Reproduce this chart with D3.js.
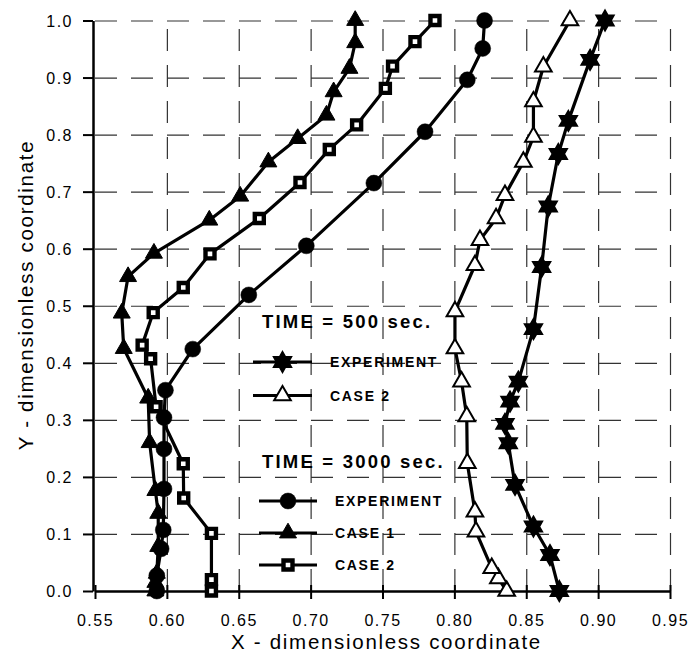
<!DOCTYPE html>
<html>
<head>
<meta charset="utf-8">
<script src="https://cdn.jsdelivr.net/npm/d3@7"></script>
<style>
  html, body { margin: 0; padding: 0; background: #fff; }
  svg { display: block; font-family: 'Liberation Sans', Arial, sans-serif; }
</style>
</head>
<body>
<div id="chart"></div>
<script>
// Dimensionless profiles at 500 s and 3000 s, experiment vs. model cases.

const X_TICKS = [0.55, 0.6, 0.65, 0.7, 0.75, 0.8, 0.85, 0.9, 0.95];
const Y_TICKS = [0, 0.1, 0.2, 0.3, 0.4, 0.5, 0.6, 0.7, 0.8, 0.9, 1.0];

// TIME = 500 sec.
const EXP_500 = [
  [0.873, 0.0], [0.8665, 0.063], [0.855, 0.113], [0.8422, 0.186], [0.8375, 0.259],
  [0.8352, 0.293], [0.8387, 0.332], [0.8445, 0.367], [0.855, 0.459], [0.8607, 0.568],
  [0.8653, 0.674], [0.8723, 0.766], [0.8793, 0.824], [0.8944, 0.931], [0.9048, 1.0]
];
const CASE2_500 = [
  [0.8364, 0.0], [0.8306, 0.022], [0.826, 0.04], [0.815, 0.104], [0.8143, 0.139],
  [0.809, 0.224], [0.8086, 0.306], [0.805, 0.367], [0.8004, 0.425], [0.8004, 0.49],
  [0.8143, 0.571], [0.8178, 0.615], [0.829, 0.653], [0.8352, 0.694], [0.848, 0.752],
  [0.855, 0.796], [0.855, 0.858], [0.8619, 0.919], [0.8804, 1.0]
];

// TIME = 3000 sec.
const EXP_3000 = [
  [0.593, 0.0], [0.593, 0.027], [0.596, 0.074], [0.5975, 0.107], [0.598, 0.179],
  [0.598, 0.249], [0.598, 0.304], [0.599, 0.352], [0.618, 0.424], [0.657, 0.519],
  [0.697, 0.605], [0.744, 0.715], [0.7796, 0.805], [0.809, 0.896], [0.8197, 0.951],
  [0.821, 1.0]
];
const CASE1_3000 = [
  [0.592, 0.0], [0.592, 0.015], [0.593, 0.031], [0.594, 0.078], [0.594, 0.136],
  [0.592, 0.176], [0.588, 0.26], [0.587, 0.338], [0.570, 0.425], [0.5686, 0.487],
  [0.573, 0.551], [0.591, 0.592], [0.6295, 0.65], [0.651, 0.692], [0.6706, 0.752],
  [0.691, 0.793], [0.711, 0.834], [0.716, 0.875], [0.727, 0.916], [0.731, 0.961],
  [0.731, 1.0]
];
const CASE2_3000 = [
  [0.631, 0.0], [0.631, 0.02], [0.631, 0.101], [0.6117, 0.163], [0.6114, 0.223],
  [0.5925, 0.323], [0.5887, 0.407], [0.5828, 0.431], [0.5905, 0.488], [0.6114, 0.532],
  [0.630, 0.591], [0.6643, 0.653], [0.6926, 0.716], [0.713, 0.774], [0.732, 0.817],
  [0.752, 0.881], [0.757, 0.92], [0.7726, 0.963], [0.7865, 1.0]
];

const LEGEND_TITLES = ['TIME = 500 sec.', 'TIME = 3000 sec.'];
const LEGEND_500 = ['EXPERIMENT', 'CASE 2'];
const LEGEND_3000 = ['EXPERIMENT', 'CASE 1', 'CASE 2'];

const width = 690;
const height = 652;
const plot = { left: 95, right: 670, top: 20.5, bottom: 591 };

// six-pointed star (two overlapping triangles)
const symbolHexagram = {
  draw(context, size) {
    const r = Math.sqrt(size) / 1.55;
    const ri = r / Math.sqrt(3);
    for (let i = 0; i < 12; i++) {
      const a = (i * Math.PI) / 6 - Math.PI / 2;
      const rad = i % 2 === 0 ? r : ri;
      const px = Math.cos(a) * rad;
      const py = Math.sin(a) * rad;
      if (i === 0) context.moveTo(px, py);
      else context.lineTo(px, py);
    }
    context.closePath();
  }
};

const MARKERS = {
  star: { type: symbolHexagram, size: 260, fill: '#000', stroke: '#000', strokeWidth: 1.5 },
  openTriangle: { type: d3.symbolTriangle, size: 120, fill: '#fff', stroke: '#000', strokeWidth: 2 },
  circle: { type: d3.symbolCircle, size: 200, fill: '#000', stroke: '#000', strokeWidth: 0.5 },
  triangle: { type: d3.symbolTriangle, size: 125, fill: '#000', stroke: '#000', strokeWidth: 1 },
  square: { type: d3.symbolSquare, size: 81, fill: '#fff', stroke: '#000', strokeWidth: 4.4 }
};

const x = d3.scaleLinear().domain([0.55, 0.95]).range([plot.left, plot.right]);
const y = d3.scaleLinear().domain([0, 1]).range([plot.bottom, plot.top]);

const svg = d3
  .select('#chart')
  .append('svg')
  .attr('width', width)
  .attr('height', height);

svg.append('rect').attr('width', width).attr('height', height).attr('fill', '#fff');

// dashed gridlines
svg
  .append('g')
  .attr('transform', `translate(0,${plot.bottom})`)
  .call(d3.axisBottom(x).tickValues(X_TICKS.slice(1)).tickSize(-(plot.bottom - plot.top)).tickFormat(''))
  .call((g) => g.select('.domain').remove())
  .selectAll('line')
  .attr('stroke', '#333')
  .attr('stroke-width', 1.2)
  .attr('stroke-dasharray', '22,14');

svg
  .append('g')
  .attr('transform', `translate(${plot.left},0)`)
  .call(d3.axisLeft(y).tickValues(Y_TICKS.slice(1)).tickSize(-(plot.right - plot.left)).tickFormat(''))
  .call((g) => g.select('.domain').remove())
  .selectAll('line')
  .attr('stroke', '#333')
  .attr('stroke-width', 1.2)
  .attr('stroke-dasharray', '22,14');

// axes
const xAxis = svg
  .append('g')
  .attr('transform', `translate(0,${plot.bottom})`)
  .call(d3.axisBottom(x).tickValues(X_TICKS).tickSize(8).tickSizeOuter(0).tickFormat(d3.format('.2f')));
xAxis.select('.domain').attr('stroke-width', 2.5);
xAxis.selectAll('line').attr('stroke-width', 2).attr('y1', -6);
xAxis
  .selectAll('text')
  .attr('y', 35)
  .attr('dy', 0)
  .attr('font-size', 16)
  .attr('letter-spacing', 1.5)
  .attr('fill', '#000');

const yAxis = svg
  .append('g')
  .attr('transform', `translate(${plot.left - 2},0)`)
  .call(d3.axisLeft(y).tickValues(Y_TICKS).tickSize(10).tickSizeOuter(0).tickFormat(d3.format('.1f')));
yAxis.select('.domain').attr('stroke-width', 2.5);
yAxis.selectAll('line').attr('stroke-width', 2);
yAxis
  .selectAll('text')
  .attr('x', -20)
  .attr('dy', '0.36em')
  .attr('font-size', 16)
  .attr('letter-spacing', 1.5)
  .attr('fill', '#000');

// axis titles
svg
  .append('text')
  .attr('x', (plot.left + plot.right) / 2 + 4)
  .attr('y', 649)
  .attr('text-anchor', 'middle')
  .attr('font-size', 20.5)
  .attr('letter-spacing', 1.7)
  .text('X - dimensionless coordinate');

svg
  .append('text')
  .attr('transform', `translate(33,${295}) rotate(-90)`)
  .attr('text-anchor', 'middle')
  .attr('font-size', 20.5)
  .attr('letter-spacing', 1.7)
  .text('Y - dimensionless coordinate');

// series
const line = d3
  .line()
  .x((d) => x(d[0]))
  .y((d) => y(d[1]));

function drawSeries(data, marker) {
  const g = svg.append('g');
  g.append('path')
    .datum(data)
    .attr('fill', 'none')
    .attr('stroke', '#000')
    .attr('stroke-width', 3.2)
    .attr('stroke-linejoin', 'round')
    .attr('d', line);
  g.selectAll('path.marker')
    .data(data)
    .join('path')
    .attr('class', 'marker')
    .attr('transform', (d) => `translate(${x(d[0])},${y(d[1])})`)
    .attr('d', d3.symbol().type(marker.type).size(marker.size))
    .attr('fill', marker.fill)
    .attr('stroke', marker.stroke)
    .attr('stroke-width', marker.strokeWidth);
}

drawSeries(CASE2_3000, MARKERS.square);
drawSeries(CASE1_3000, MARKERS.triangle);
drawSeries(EXP_3000, MARKERS.circle);
drawSeries(CASE2_500, MARKERS.openTriangle);
drawSeries(EXP_500, MARKERS.star);

// legend
const legend = svg.append('g');

function legendTitle(text, ty) {
  legend
    .append('text')
    .attr('x', 262)
    .attr('y', ty)
    .attr('font-size', 18.5)
    .attr('font-weight', 'bold')
    .attr('letter-spacing', 2.2)
    .text(text);
}

function legendItem(label, marker, x1, x2, ly, tx) {
  legend
    .append('line')
    .attr('x1', x1)
    .attr('x2', x2)
    .attr('y1', ly)
    .attr('y2', ly)
    .attr('stroke', '#000')
    .attr('stroke-width', 3.2);
  legend
    .append('path')
    .attr('transform', `translate(${(x1 + x2) / 2},${ly})`)
    .attr('d', d3.symbol().type(marker.type).size(marker.size))
    .attr('fill', marker.fill)
    .attr('stroke', marker.stroke)
    .attr('stroke-width', marker.strokeWidth);
  legend
    .append('text')
    .attr('x', tx)
    .attr('y', ly + 5)
    .attr('font-size', 14)
    .attr('font-weight', 'bold')
    .attr('letter-spacing', 1.7)
    .text(label);
}

legendTitle(LEGEND_TITLES[0], 328);
legendItem(LEGEND_500[0], MARKERS.star, 253, 312, 362, 330);
legendItem(LEGEND_500[1], MARKERS.openTriangle, 253, 312, 395.5, 330);

legendTitle(LEGEND_TITLES[1], 467.5);
legendItem(LEGEND_3000[0], MARKERS.circle, 259, 317, 501, 335);
legendItem(LEGEND_3000[1], MARKERS.triangle, 259, 317, 533, 335);
legendItem(LEGEND_3000[2], MARKERS.square, 259, 317, 565, 335);
</script>
</body>
</html>
